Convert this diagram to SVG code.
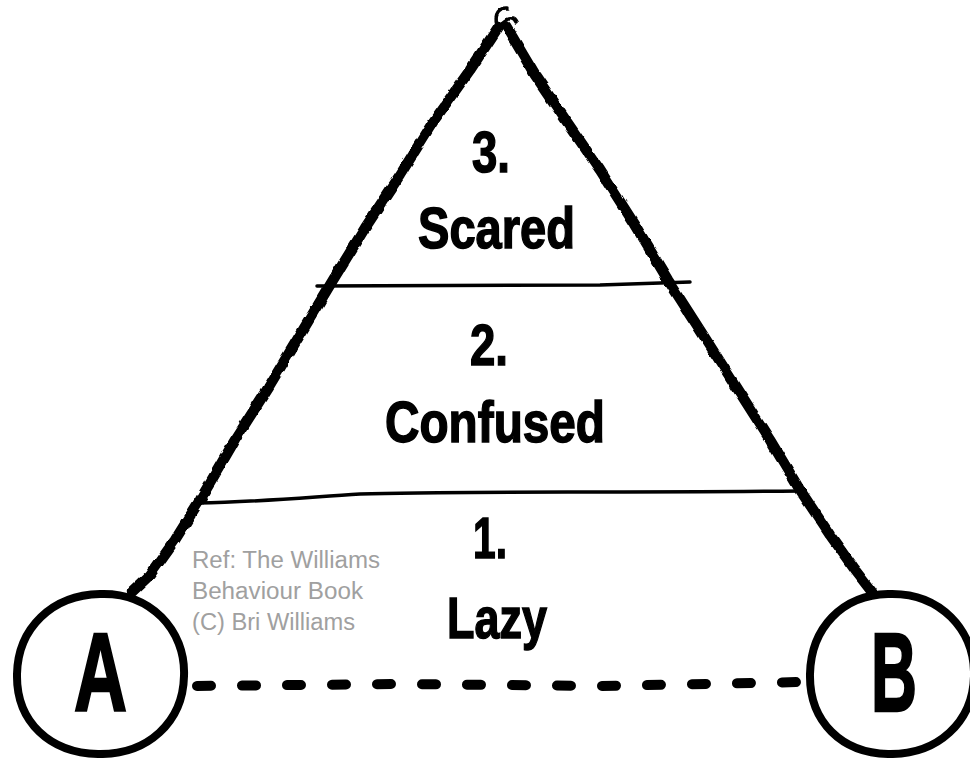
<svg xmlns="http://www.w3.org/2000/svg" width="970" height="758" viewBox="0 0 970 758">
<style>
.rough{fill:none;stroke:#000;stroke-linecap:round;stroke-linejoin:round}
.div{fill:none;stroke:#000;stroke-width:3.5;stroke-linecap:round}
.big{font-family:"Liberation Sans","Arial",sans-serif;font-weight:bold;font-size:58px;fill:#000;stroke:#000;stroke-width:1.5}
.letter{font-family:"Liberation Sans","Arial",sans-serif;font-weight:bold;font-size:112px;fill:#000;stroke:#000;stroke-width:2.5}
.ref{font-family:"Liberation Sans","Arial",sans-serif;font-size:23px;fill:#a0a0a0}
.circ{fill:#fff;stroke:#000;stroke-width:8}
</style>
<defs>
<filter id="jit" x="-10%" y="-10%" width="120%" height="120%">
<feTurbulence type="fractalNoise" baseFrequency="0.08" numOctaves="2" seed="3"/>
<feDisplacementMap in="SourceGraphic" scale="4" xChannelSelector="R" yChannelSelector="G"/>
</filter>
</defs>
<rect width="970" height="758" fill="#fff"/>
<g id="pyramid">
<g filter="url(#jit)">
<path class="rough" stroke-width="10.5" d="M499,26 L470,70 L433,122 L400,175 L365,228 L333,280 L300,335 L268,388 L235,440 L200,500 L175,540 L150,575 L132,592"/>
<path class="rough" stroke-width="10.5" d="M506,26 L535,75 L567,122 L600,170 L635,225 L668,280 L700,330 L735,385 L770,440 L800,490 L830,535 L855,570 L872,592"/>
<path class="rough" stroke-width="3.5" d="M497,24 C494,14 499,7 508,8"/>
<path class="rough" stroke-width="3.5" d="M504,22 C509,17 514,18 516,23"/>
</g>
<path class="div" d="M317,286 L600,285 L690,282"/>
<path class="div" d="M198,503 C260,502 310,497 360,494 C450,491 600,493 800,491"/>
</g>
<g id="level-3">
<text class="big" x="472" y="172" textLength="38" lengthAdjust="spacingAndGlyphs">3.</text>
<text class="big" x="418" y="248" textLength="157" lengthAdjust="spacingAndGlyphs">Scared</text>
</g>
<g id="level-2">
<text class="big" x="470" y="365" textLength="38" lengthAdjust="spacingAndGlyphs">2.</text>
<text class="big" x="385" y="442" textLength="220" lengthAdjust="spacingAndGlyphs">Confused</text>
</g>
<g id="level-1">
<text class="big" x="473" y="558" textLength="34" lengthAdjust="spacingAndGlyphs">1.</text>
<text class="big" x="447" y="638" textLength="100" lengthAdjust="spacingAndGlyphs">Lazy</text>
</g>
<g id="reference">
<text class="ref" x="192" y="568" textLength="188" lengthAdjust="spacingAndGlyphs">Ref: The Williams</text>
<text class="ref" x="192" y="599" textLength="171" lengthAdjust="spacingAndGlyphs">Behaviour Book</text>
<text class="ref" x="192" y="630" textLength="163" lengthAdjust="spacingAndGlyphs">(C) Bri Williams</text>
</g>
<g id="connectors">
<path fill="none" stroke="#000" stroke-width="10" stroke-linecap="round" stroke-dasharray="14 31" d="M197,686 L400,684 L600,686 L802,682"/>
</g>
<g id="node-A">
<path class="circ" d="M100,594 C150,592 186,630 184,676 C183,722 148,755 98,754 C50,753 16,722 17,674 C18,628 52,595 100,594 Z"/>
<text class="letter" x="74" y="711" textLength="53" lengthAdjust="spacingAndGlyphs">A</text>
</g>
<g id="node-B">
<path class="circ" d="M888,594 C940,592 975,630 974,676 C973,722 938,755 888,754 C842,753 809,722 810,674 C811,628 842,595 888,594 Z"/>
<text class="letter" x="871" y="711" textLength="46" lengthAdjust="spacingAndGlyphs">B</text>
</g>
</svg>
